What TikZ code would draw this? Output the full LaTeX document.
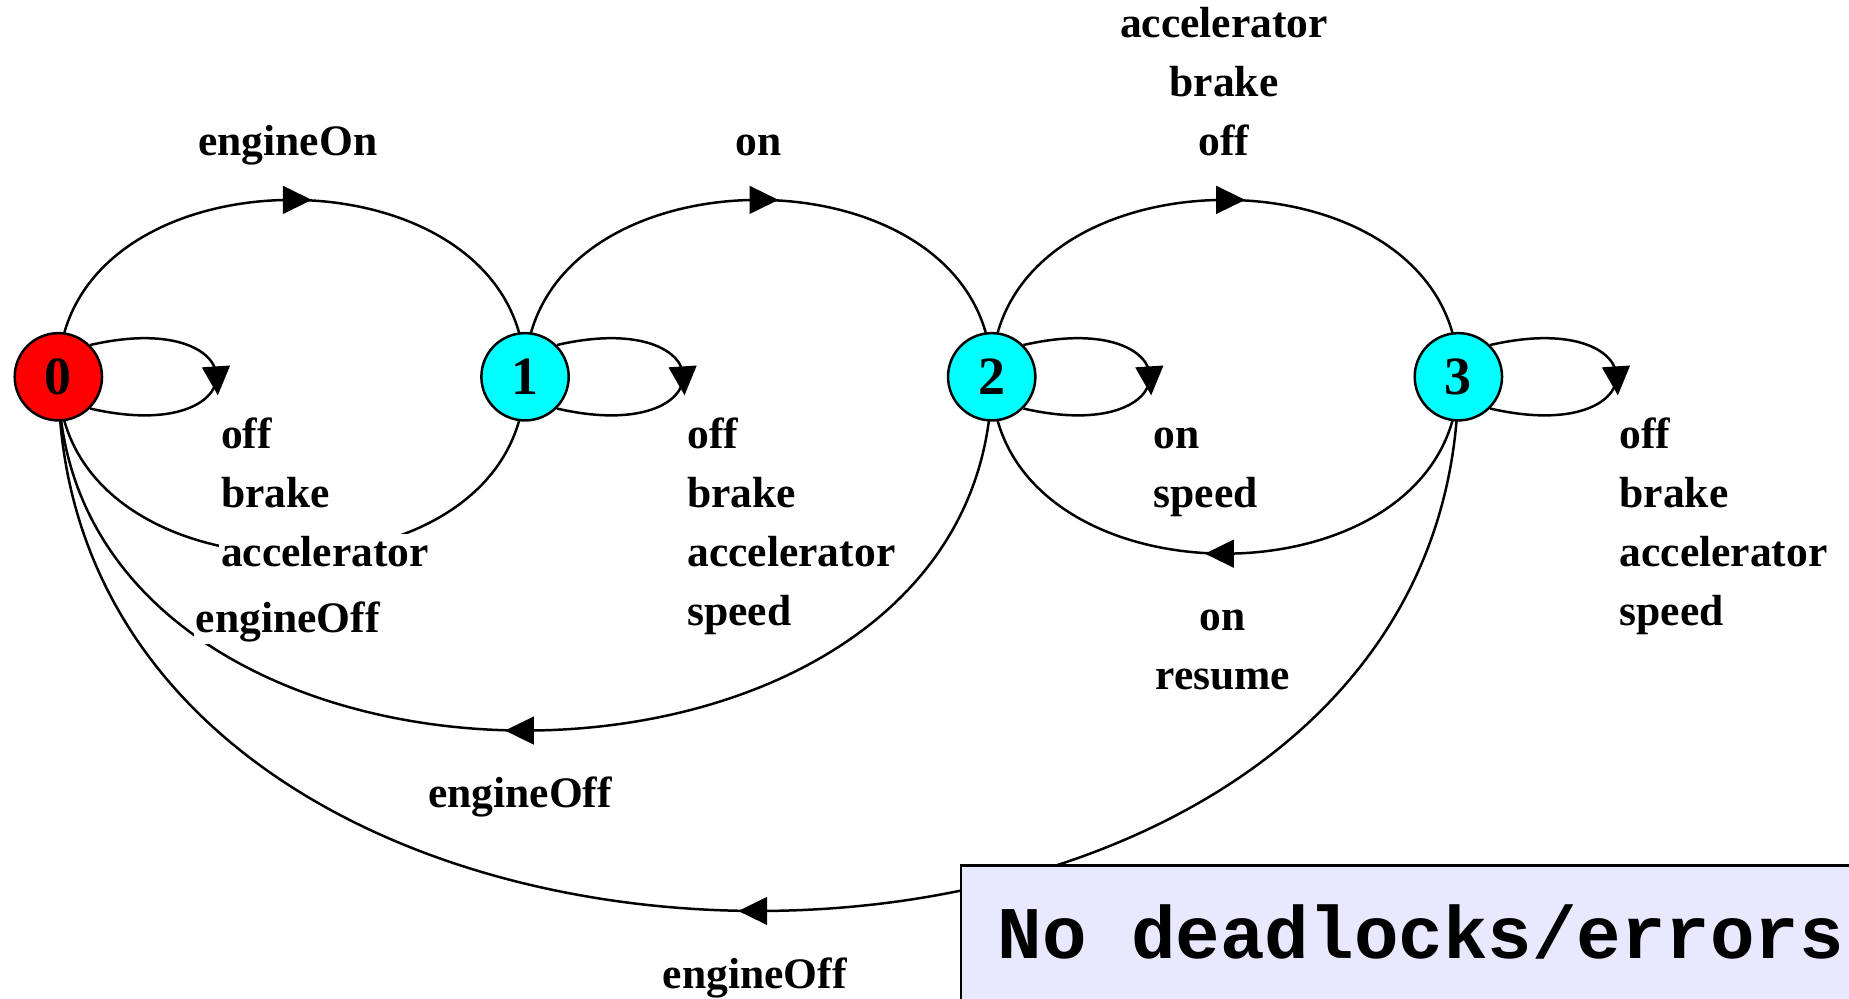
\documentclass[tikz,border=0pt]{standalone}
\usepackage{fontspec}
\setmainfont{Liberation Serif}
\setmonofont{Liberation Mono}
\usetikzlibrary{shapes.geometric,backgrounds}
\definecolor{stateRed}{RGB}{255,0,0}
\definecolor{stateCyan}{RGB}{0,255,255}
\definecolor{noteFill}{RGB}{232,232,255}

\begin{document}
\begin{tikzpicture}[
    x=0.01cm, y=-0.01cm,
    state/.style ={
        circle,
        draw=black,
        line width=0.6pt,
        minimum size=0.74cm,
        inner sep=0pt,
        font=\bfseries\fontsize{13}{13}\selectfont
    },
    lbl/.style ={
        fill=white,
        inner sep=0.5pt,
        font=\bfseries\fontsize{10.5}{12}\selectfont
    },
    trans/.style ={
        line width=0.6pt
    },
    headtip/.style ={
        isosceles triangle,
        isosceles triangle stretches,
        fill=black,
        inner sep=0pt,
        minimum width=0.24cm,
        minimum height=0.245cm,
        sloped,
        allow upside down
    },
    note/.style ={
        draw=black,
        line width=0.6pt,
        fill=noteFill
    }
    ]
    \path[use as bounding box, clip] (0,0) rectangle (1568,847);

    \foreach \i/\c in {0/stateRed, 1/stateCyan, 2/stateCyan, 3/stateCyan}
        \node[state, fill=\c] (n\i) at (49.5+395.75*\i, 319.5) {\i};

    % transitions under the states
    \begin{pgfonlayer}{background}
    \foreach \src/\dst/\h in {0/1/-200, 1/2/-200, 2/3/-200, 1/0/200, 2/0/400, 3/0/604, 3/2/200}
        \draw[trans] (n\src.center) .. controls +(0,\h) and +(0,\h) .. (n\dst.center)
            node[headtip, pos=0.5] (tip\src\dst) {};
    \foreach \s in {0,...,3}
        \draw[trans] (n\s.45) .. controls +(143,-33) and +(143,33) .. (n\s.-45)
            node[headtip, pos=0.49] (tip\s\s) {};
    \end{pgfonlayer}

    % labels above
    \node[lbl, anchor=base] (on01) at (244,131.5) {engineOn};
    \node[lbl, anchor=base] (on12) at (643,131.5) {on};
    \foreach \txt [count=\i from 0] in {accelerator, brake, off}
        \node[lbl, anchor=base] (up23-\i) at (1038, 31.5+50*\i) {\txt};

    % self loops
    \foreach \txt [count=\i from 0] in {off, brake, accelerator}
        \node[lbl, anchor=base west] (self0-\i) at (185, 380+50*\i) {\txt};
    \foreach \txt [count=\i from 0] in {off, brake, accelerator, speed}
        \node[lbl, anchor=base west] (self1-\i) at (580.5, 380+50*\i) {\txt};
    \foreach \txt [count=\i from 0] in {on, speed}
        \node[lbl, anchor=base west] (self2-\i) at (976, 380+50*\i) {\txt};
    \foreach \txt [count=\i from 0] in {off, brake, accelerator, speed}
        \node[lbl, anchor=base west] (self3-\i) at (1371, 380+50*\i) {\txt};

    % labels below
    \node[lbl, anchor=base] (off10) at (244,536) {engineOff};
    \node[lbl, anchor=base] (off20) at (441,685) {engineOff};
    \foreach \txt [count=\i from 0] in {on, resume}
        \node[lbl, anchor=base] (back32-\i) at (1037, 535+50*\i) {\txt};
    \node[lbl, anchor=base] (off30) at (640,838) {engineOff};

    \draw[note] (815,734) rectangle (1600,900);
    \node[anchor=base west, inner sep=0pt, font=\ttfamily\bfseries\fontsize{17.9}{20}\selectfont] (verdict) at (845.4,812.7) {No deadlocks/errors};

\end{tikzpicture}
\end{document}
